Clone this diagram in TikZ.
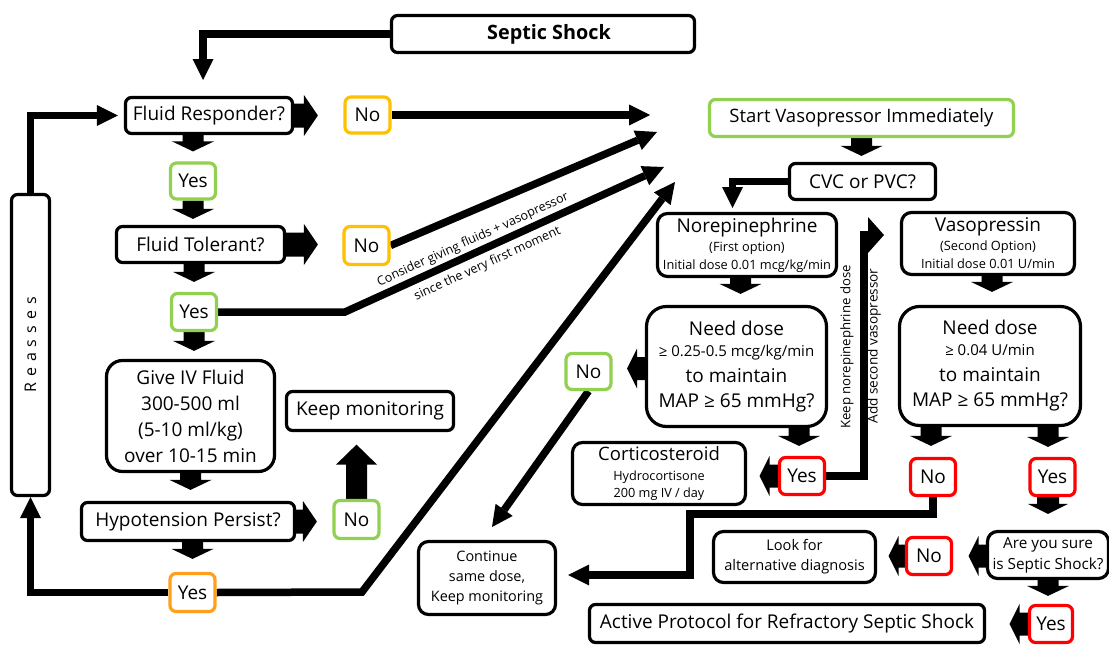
\documentclass[tikz,border=0pt]{standalone}
\usepackage{fontspec}
\setmainfont{Open Sans}
\usepackage{graphicx}
\usetikzlibrary{arrows.meta,calc}
\definecolor{cgreen}{HTML}{92D050}
\definecolor{cyellow}{HTML}{FFC000}
\definecolor{corange}{HTML}{FF9F1C}
\definecolor{cred}{HTML}{FF0000}
\newcommand\fsz[2]{\fontsize{#1}{#2}\selectfont}
% fat block arrow: start, tip, shaft half width, head half width, head length
\newcommand\fatarrow[5]{%
  \fill ($#1!#3!90:#2$) -- ($($#2!#5!#1$)!#3!90:#2$) -- ($($#2!#5!#1$)!#4!90:#2$) -- #2 -- ($($#2!#5!#1$)!#4!-90:#2$) -- ($($#2!#5!#1$)!#3!-90:#2$) -- ($#1!#3!-90:#2$) -- cycle;}
\pgfdeclarelayer{background}
\pgfsetlayers{background,main}
\begin{document}
\begin{tikzpicture}[x=1pt,y=-1pt,
  box/.style={draw=black, line width=3.2pt, rounded corners=6pt, inner sep=0pt, align=center, font=\fsz{19}{22}, text=black},
  yn/.style={box, minimum width=45pt, minimum height=37pt},
  conn/.style={line width=7.5pt, -{Triangle[length=21pt,width=21pt,line width=0pt]}}]
\useasboundingbox (0,0) rectangle (1109,645);
% ---------- left column ----------
\node[box, minimum width=303pt, minimum height=37pt, font=\bfseries\fsz{19.8}{22}] (ss) at (543,34) {\hspace{12pt}Septic Shock};
\node[box, minimum width=167pt, minimum height=36pt] (fr) at (209,115.5) {Fluid Responder?};
\node[yn, draw=cyellow, minimum height=36pt] (no1) at (367.5,115) {No};
\node[yn, draw=cgreen, minimum height=36pt] (y1) at (193,181) {Yes};
\node[box, minimum width=168pt, minimum height=36pt] (ft) at (200.5,244.5) {Fluid Tolerant?};
\node[yn, draw=cyellow, minimum height=38pt] (no2) at (366.5,245.5) {No};
\node[yn, draw=cgreen] (y2) at (194,312) {Yes};
\node[box, rounded corners=16pt, minimum width=168pt, minimum height=111pt, font=\fsz{19}{26}] (iv) at (190.5,416) {Give IV Fluid\\300-500 ml\\(5-10 ml/kg)\\over 10-15 min};
\node[box, minimum width=213pt, minimum height=38pt] (hp) at (188,521.5) {Hypotension Persist?};
\node[yn, draw=cgreen, minimum height=38pt] (no3) at (356.5,519.5) {No};
\node[box, minimum width=167pt, minimum height=39pt, font=\fsz{19}{22}] (km) at (370,411) {Keep monitoring};
\node[yn, draw=corange, minimum height=38pt] (y3) at (192.5,592.5) {Yes};
\node[box, minimum width=38pt, minimum height=301pt, font=\fsz{16}{18}] (re) at (30.5,345) {\rotatebox{90}{R\hspace{6pt}e\hspace{6pt}a\hspace{6pt}s\hspace{6pt}s\hspace{6pt}e\hspace{6pt}s}};
% ---------- right part ----------
\node[box, draw=cgreen, minimum width=304pt, minimum height=37pt, font=\fsz{18.5}{22}] (sv) at (861.5,118) {Start Vasopressor Immediately};
\node[box, minimum width=146pt, minimum height=36pt] (cvc) at (862.5,181.5) {CVC or PVC?};
\node[box, rounded corners=10pt, minimum width=179pt, minimum height=63pt, font=\fsz{12.8}{30}] (ne) at (747,245) {{\fsz{19}{19}Norepinephrine}\\[-11pt](First option)\\[-12pt]Initial dose 0.01 mcg/kg/min};
\node[box, rounded corners=10pt, minimum width=173pt, minimum height=62pt, font=\fsz{12.8}{30}] (va) at (988,243.5) {{\fsz{19}{19}Vasopressin}\\[-11pt](Second Option)\\[-12pt]Initial dose 0.01 U/min};
\node[box, rounded corners=20pt, minimum width=180pt, minimum height=120pt, font=\fsz{12}{30}] (nd1) at (736.5,366.5) {{\fsz{19}{19}Need dose}\\[-9pt]{\fsz{15}{15}≥ 0.25-0.5 mcg/kg/min}\\[-4pt]{\fsz{19}{19}to maintain}\\[-5pt]{\fsz{19}{19}MAP ≥ 65 mmHg?}};
\node[box, rounded corners=20pt, minimum width=181pt, minimum height=119pt, font=\fsz{12}{30}] (nd2) at (990,366) {{\fsz{19}{19}Need dose}\\[-9pt]{\fsz{15}{15}≥ 0.04 U/min}\\[-4pt]{\fsz{19}{19}to maintain}\\[-5pt]{\fsz{19}{19}MAP ≥ 65 mmHg?}};
\node[yn, draw=cgreen, minimum height=36pt] (no4) at (588.5,371.5) {No};
\node[box, rounded corners=10pt, minimum width=173pt, minimum height=62pt, font=\fsz{12.7}{30}] (co) at (659,473.5) {{\fsz{18.5}{19}Corticosteroid}\\[-10pt]Hydrocortisone\\[-13pt]200 mg IV / day};
\node[yn, draw=cred] (y4) at (802,476) {Yes};
\node[yn, draw=cred] (no5) at (933,477) {No};
\node[yn, draw=cred] (y5) at (1052.5,477) {Yes};
\node[box, rounded corners=10pt, minimum width=121pt, minimum height=47pt, font=\fsz{15.3}{21}] (ays) at (1048,555) {Are you sure\\is Septic Shock?};
\node[yn, draw=cred] (no6) at (929,556) {No};
\node[box, rounded corners=10pt, minimum width=162pt, minimum height=51pt, font=\fsz{14.6}{20}] (lf) at (794.5,557) {Look for\\alternative diagnosis};
\node[yn, draw=cred, minimum width=43pt] (y6) at (1051,624) {Yes};
\node[box, minimum width=395pt, minimum height=38pt, font=\fsz{19}{22}] (ap) at (787,623.5) {Active Protocol for Refractory Septic Shock};
\node[box, rounded corners=10pt, minimum width=137pt, minimum height=73pt, font=\fsz{14.4}{20}] (cs) at (487,578) {Continue\\same dose,\\Keep monitoring};
% ---------- connector labels ----------
\node[rotate=90, font=\fsz{13.2}{14}] (lbk) at (847,347) {Keep norepinephrine dose};
\node[rotate=90, font=\fsz{13.6}{14}] (lba) at (874,346) {Add second vasopressor};
\node[rotate=24.5, font=\fsz{12.5}{14}] (lc1) at (473,240) {Consider giving fluids + vasopressor};
\node[rotate=24.5, font=\fsz{12.5}{14}] (lc2) at (487.5,264) {since the very first moment};
% ---------- free ends and bends ----------
\coordinate (t1) at (650,115);
\coordinate (t2) at (657,132);
\coordinate (t3) at (664,167);
\coordinate (t4) at (675,182);
\coordinate (k2) at (345,312);
\coordinate (k4) at (362,592);
\coordinate (t5) at (203,80);
\coordinate (t6) at (732.5,208);
\coordinate (k7) at (864,235);
\coordinate (t7) at (884,235);
\coordinate (k8) at (690,514);
\coordinate (t8) at (492,527);
\begin{pgfonlayer}{background}
\fill[white] (0,0) rectangle (1109,645);
% thin connectors
\draw[conn] (ss.west) -| (t5);
\draw[conn] (re.north) |- ($(fr.west)+(-6,0)$);
\draw[conn] (no1.east) -- (t1);
\draw[conn] (no2.east) -- (t2);
\draw[conn] (y2.east) -- (k2) -- (t3);
\draw[conn] (y3.east) -- (k4) -- (t4);
\draw[conn] (y3.west) -| (re.south);
\draw[conn] (cvc.west) -| (t6);
\draw[conn] (no4.south) -- (t8);
\draw[conn] (no5.south) |- (k8) |- ($(cs.east)+(11,-3)$);
\draw[line width=8pt, -{Triangle[length=16pt,width=36pt,line width=0pt]}] (y4.east) -| (k7) -- (t7);
% fat block arrows: down
\fatarrow{(y1 |- fr.south)}{($(y1.north)+(0,-10)$)}{10.5pt}{21pt}{10pt}
\fatarrow{(y1.south)}{($(y1 |- ft.north)+(0,-6)$)}{10.5pt}{21pt}{10pt}
\fatarrow{(y2 |- ft.south)}{($(y2.north)+(0,-10)$)}{10.5pt}{21pt}{10pt}
\fatarrow{(y2.south)}{($(y2 |- iv.north)+(0,-8)$)}{10.5pt}{21pt}{10pt}
\fatarrow{(iv.south)}{($(iv.south |- hp.north)+(0,-11)$)}{10.5pt}{21pt}{10pt}
\fatarrow{(y3 |- hp.south)}{($(y3.north)+(0,-13)$)}{10.5pt}{21pt}{10pt}
\fatarrow{(sv.south)}{($(sv.south |- cvc.north)+(0,-6)$)}{10.5pt}{21pt}{10pt}
\fatarrow{($(nd1.north |- ne.south)+(4,0)$)}{($(nd1.north)+(4,-11)$)}{10.5pt}{21pt}{10pt}
\fatarrow{($(nd2.north |- va.south)+(2,0)$)}{($(nd2.north)+(2,-13)$)}{10.5pt}{21pt}{10pt}
\fatarrow{($(y4 |- nd1.south)+(-3,0)$)}{($(y4.north)+(-3,-10)$)}{10.5pt}{21pt}{10pt}
\fatarrow{($(no5 |- nd2.south)+(-2,0)$)}{($(no5.north)+(-2,-11)$)}{10.5pt}{21pt}{10pt}
\fatarrow{($(y5 |- nd2.south)+(-4.5,0)$)}{($(y5.north)+(-4.5,-10)$)}{10.5pt}{21pt}{10pt}
\fatarrow{($(y5.south)+(-4.5,0)$)}{($(y5 |- ays.north)+(-4.5,-16)$)}{11pt}{20pt}{10pt}
\fatarrow{($(y6 |- ays.south)+(-3,0)$)}{($(y6.north)+(-3,-8)$)}{10.5pt}{21pt}{10pt}
% left
\fatarrow{($(nd1.west)+(0,2)$)}{($(no4.east |- nd1.west)+(14.5,2)$)}{11.5pt}{20pt}{10pt}
\fatarrow{(y4.west)}{($(y4.west -| co.east)+(12.5,0)$)}{11.5pt}{20pt}{10pt}
\fatarrow{(ays.west |- no6)}{($(no6.east)+(15.5,0)$)}{11.5pt}{20pt}{10pt}
\fatarrow{(no6.west)}{($(no6.west -| lf.east)+(11.5,0)$)}{11.5pt}{20pt}{10pt}
\fatarrow{(y6.west)}{($(y6.west -| ap.east)+(23.5,0)$)}{11.5pt}{20pt}{10pt}
% right
\fatarrow{(fr.east)}{($(fr.east -| no1.west)+(-25.5,0)$)}{12pt}{20.5pt}{14pt}
\fatarrow{(ft.east)}{($(ft.east -| no2.west)+(-24.5,0)$)}{12pt}{20.5pt}{14pt}
\fatarrow{(hp.east)}{($(hp.east -| no3.west)+(-15.5,0)$)}{12pt}{20.5pt}{14pt}
% up
\fatarrow{(no3.north)}{($(no3 |- km.south)+(0,12.5)$)}{10.5pt}{20.5pt}{20pt}
\end{pgfonlayer}
\end{tikzpicture}
\end{document}
